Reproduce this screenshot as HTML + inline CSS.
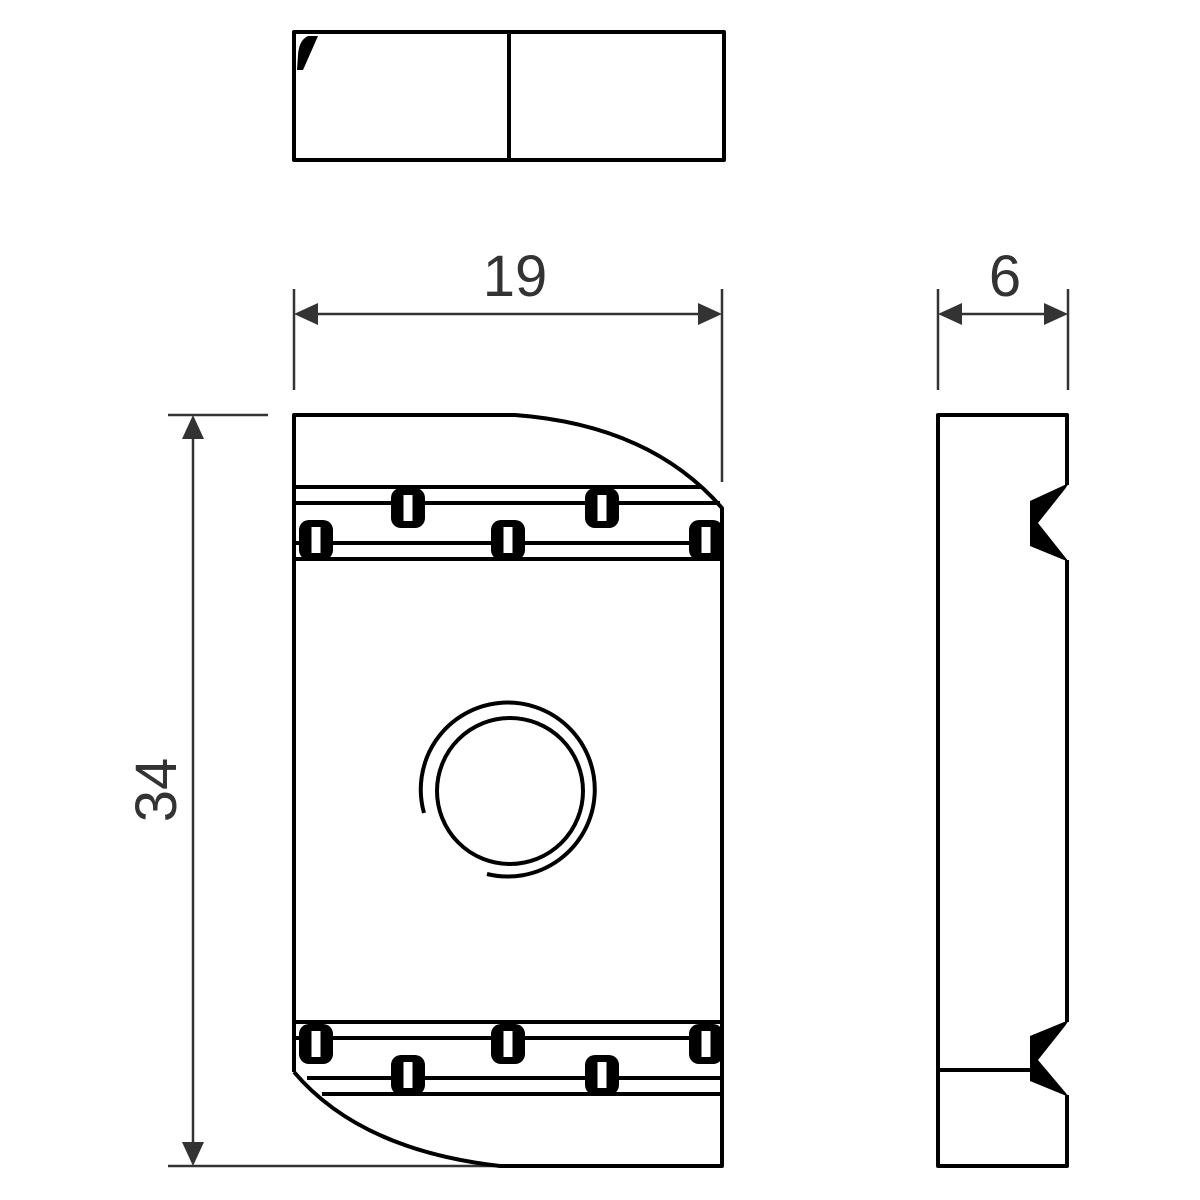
<!DOCTYPE html>
<html><head><meta charset="utf-8"><style>html,body{margin:0;padding:0;background:#fff}svg{display:block}</style></head>
<body>
<svg width="1200" height="1200" viewBox="0 0 1200 1200" xmlns="http://www.w3.org/2000/svg">
<defs>
<g id="tooth"><rect x="-17" y="-20" width="34" height="40" rx="10" fill="#000"/><rect x="-4.5" y="-13" width="9" height="26" fill="#fff"/></g>
</defs>
<!-- top view -->
<g fill="none" stroke="#000" stroke-width="4" stroke-linejoin="round">
<rect x="294" y="32" width="430" height="128"/>
<line x1="509" y1="32" x2="509" y2="160"/>
</g>
<path d="M297,70 L303,70 L318,36 L308,36 Q299,40 298,55 Z" fill="#000"/>
<!-- dimensions -->
<g stroke="#333" stroke-width="2.5" fill="none">
<line x1="294" y1="289" x2="294" y2="390"/>
<line x1="722" y1="289" x2="722" y2="482"/>
<line x1="300" y1="314" x2="716" y2="314"/>
<line x1="938" y1="289" x2="938" y2="390"/>
<line x1="1068" y1="289" x2="1068" y2="390"/>
<line x1="944" y1="314" x2="1062" y2="314"/>
<line x1="168" y1="415" x2="268" y2="415"/>
<line x1="168" y1="1166" x2="500" y2="1166"/>
<line x1="193" y1="420" x2="193" y2="1160"/>
</g>
<g fill="#333">
<polygon points="294,314 318,303 318,325"/>
<polygon points="722,314 698,303 698,325"/>
<polygon points="938,314 962,303 962,325"/>
<polygon points="1068,314 1044,303 1044,325"/>
<polygon points="193,415 182,439 204,439"/>
<polygon points="193,1166 182,1142 204,1142"/>
</g>
<g font-family="Liberation Sans, sans-serif" font-size="58" fill="#333" text-anchor="middle">
<text x="515" y="296">19</text>
<text x="1005" y="296">6</text>
<text transform="translate(176,790) rotate(-90)">34</text>
</g>
<!-- main view -->
<g fill="none" stroke="#000" stroke-width="4" stroke-linejoin="round">
<path d="M294,1072 L294,415 L515,415 Q650,425 722,508 L722,1166 L500,1166 Q360,1150 294,1072"/>
<line x1="294" y1="487" x2="702" y2="487"/>
<line x1="294" y1="503" x2="720" y2="503"/>
<line x1="294" y1="543" x2="722" y2="543"/>
<line x1="294" y1="559" x2="722" y2="559"/>
<line x1="294" y1="1022" x2="722" y2="1022"/>
<line x1="294" y1="1038" x2="722" y2="1038"/>
<line x1="307" y1="1078" x2="722" y2="1078"/>
<line x1="322" y1="1094" x2="722" y2="1094"/>
<circle cx="510" cy="791" r="73"/>
<path d="M424,813 A87,87 0 1 1 487,874"/>
</g>
<use href="#tooth" x="408" y="508"/>
<use href="#tooth" x="602" y="508"/>
<use href="#tooth" x="316" y="540"/>
<use href="#tooth" x="508" y="540"/>
<use href="#tooth" x="706" y="540"/>
<use href="#tooth" x="316" y="1044"/>
<use href="#tooth" x="508" y="1044"/>
<use href="#tooth" x="706" y="1044"/>
<use href="#tooth" x="408" y="1075"/>
<use href="#tooth" x="602" y="1075"/>
<!-- side view -->
<g fill="none" stroke="#000" stroke-width="4" stroke-linejoin="round">
<path d="M1067,485 L1067,415 L938,415 L938,1166 L1067,1166 L1067,1095"/>
<line x1="1067" y1="560" x2="1067" y2="1022"/>
<line x1="938" y1="1070" x2="1030" y2="1070"/>
</g>
<polygon points="1069,483 1030,501 1030,546 1069,562 1065,557 1038,523 1065,489" fill="#000"/>
<polygon points="1069,1020 1030,1036 1030,1081 1069,1097 1065,1092 1038,1060 1065,1026" fill="#000"/>
</svg>
</body></html>
